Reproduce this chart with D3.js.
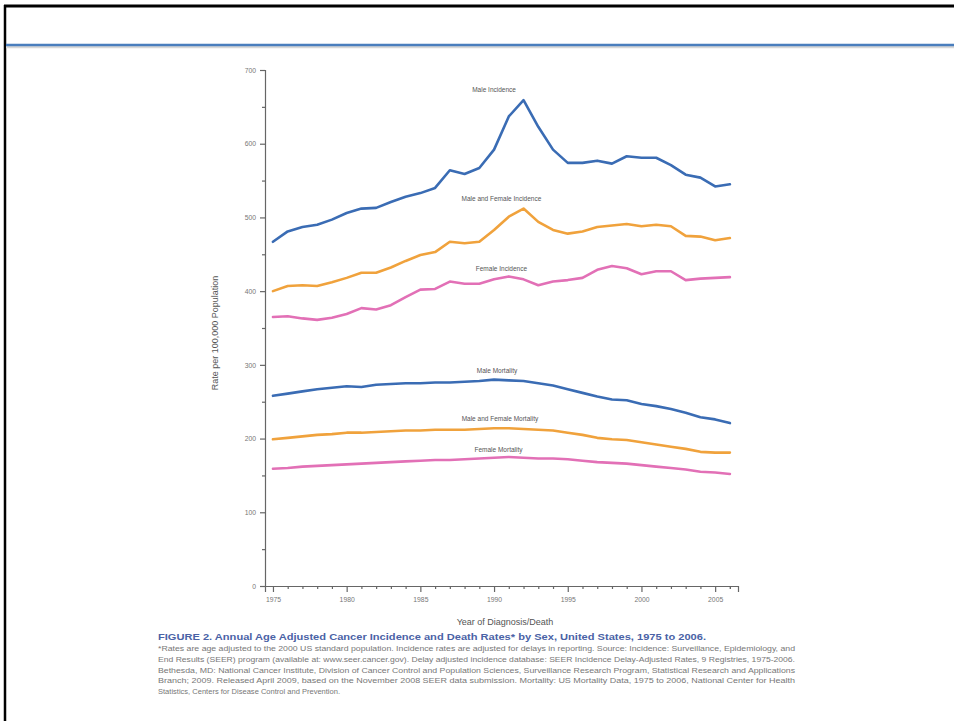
<!DOCTYPE html>
<html>
<head>
<meta charset="utf-8">
<script src="https://cdn.jsdelivr.net/npm/d3@7/dist/d3.min.js"></script>
<style>
  html, body { margin: 0; padding: 0; background: #fff; }
  svg { display: block; }
  text { font-family: "Liberation Sans", Arial, sans-serif; }
</style>
</head>
<body>
<svg id="slide" width="954" height="721"></svg>
<script>
// Years 1975-2006
const years = d3.range(1975, 2007);

// Age-adjusted rates per 100,000
const maleIncidence = [467, 481, 487, 490, 497, 506, 512, 513, 521, 528, 533, 540, 564, 559, 567, 592,
  637, 659, 623, 592, 574, 574, 577, 573, 583, 581, 581, 571, 558, 554, 542, 545];
const bothIncidence = [400, 407, 408, 407, 412, 418, 425, 425, 432, 441, 449, 453, 467, 465, 467, 483,
  501, 512, 494, 483, 478, 481, 487, 489, 491, 488, 490, 488, 475, 474, 469, 472];
const femaleIncidence = [365, 366, 363, 361, 364, 369, 377, 375, 381, 392, 402, 403, 413, 410, 410, 416,
  420, 416, 408, 413, 415, 418, 429, 434, 431, 423, 427, 427, 415, 417, 418, 419];
const maleMortality = [258, 261, 264, 267, 269, 271, 270, 273, 274, 275, 275, 276, 276, 277, 278, 280,
  279, 278, 275, 272, 267, 262, 257, 253, 252, 247, 244, 240, 235, 229, 226, 221];
const bothMortality = [199, 201, 203, 205, 206, 208, 208, 209, 210, 211, 211, 212, 212, 212, 213, 214,
  214, 213, 212, 211, 208, 205, 201, 199, 198, 195, 192, 189, 186, 182, 181, 181];
const femaleMortality = [159, 160, 162, 163, 164, 165, 166, 167, 168, 169, 170, 171, 171, 172, 173, 174,
  175, 174, 173, 173, 172, 170, 168, 167, 166, 164, 162, 160, 158, 155, 154, 152];

const seriesNames = ["Male Incidence", "Male and Female Incidence", "Female Incidence",
  "Male Mortality", "Male and Female Mortality", "Female Mortality"];
const seriesValues = [maleIncidence, bothIncidence, femaleIncidence, maleMortality, bothMortality, femaleMortality];
const seriesColors = ["#3a6cb4", "#f0a23c", "#e270b6", "#3a6cb4", "#f0a23c", "#e270b6"];
// label anchor: [year, rate]
const labelAnchors = [[1990, 670], [1990.5, 522], [1990.5, 427], [1990.2, 289], [1990.4, 224], [1990.3, 182]];

const yTicks = [0, 100, 200, 300, 400, 500, 600, 700];
const yMinor = [50, 150, 250, 350, 450, 550, 650];
const xTicks = [1975, 1980, 1985, 1990, 1995, 2000, 2005];

const captionTitle = "FIGURE 2. Annual Age Adjusted Cancer Incidence and Death Rates* by Sex, United States, 1975 to 2006.";
const captionNotes = [
  "*Rates are age adjusted to the 2000 US standard population. Incidence rates are adjusted for delays in reporting. Source: Incidence: Surveillance, Epidemiology, and",
  "End Results (SEER) program (available at: www.seer.cancer.gov). Delay adjusted incidence database: SEER Incidence Delay-Adjusted Rates, 9 Registries, 1975-2006.",
  "Bethesda, MD: National Cancer Institute, Division of Cancer Control and Population Sciences, Surveillance Research Program, Statistical Research and Applications",
  "Branch; 2009. Released April 2009, based on the November 2008 SEER data submission. Mortality: US Mortality Data, 1975 to 2006, National Center for Health",
  "Statistics, Centers for Disease Control and Prevention."
];
const noteWidths = [637, 637, 637, 637, 182];

const svg = d3.select("#slide");

// slide frame and header rule
svg.append("rect").attr("x", 0).attr("y", 0).attr("width", 954).attr("height", 721).attr("fill", "#fff");
svg.append("line").attr("x1", 4).attr("x2", 954).attr("y1", 6).attr("y2", 6)
  .attr("stroke", "#000").attr("stroke-width", 3);
svg.append("line").attr("x1", 5).attr("x2", 5).attr("y1", 5).attr("y2", 721)
  .attr("stroke", "#000").attr("stroke-width", 2.5);
svg.append("line").attr("x1", 6).attr("x2", 954).attr("y1", 47).attr("y2", 47)
  .attr("stroke", "#d8d8d8").attr("stroke-width", 2.5);
svg.append("line").attr("x1", 6).attr("x2", 954).attr("y1", 45).attr("y2", 45)
  .attr("stroke", "#4a7ebd").attr("stroke-width", 2.5);

const x = d3.scaleLinear().domain([1974.46, 2006.55]).range([265, 738]);
const y = d3.scaleLinear().domain([0, 700]).range([586, 70]);

const axisColor = "#666";
const g = svg.append("g");

// y axis
const yAxis = g.append("g").attr("transform", `translate(${x.range()[0]},0)`)
  .call(d3.axisLeft(y).tickValues(yTicks).tickSize(5).tickPadding(4).tickFormat(d3.format("d")));
const yMinorAxis = g.append("g").attr("transform", `translate(${x.range()[0]},0)`)
  .call(d3.axisLeft(y).tickValues(yMinor).tickSize(3).tickFormat(""));
yMinorAxis.select(".domain").remove();

// x axis
const xAxis = g.append("g").attr("transform", `translate(0,${y(0)})`)
  .call(d3.axisBottom(x).tickValues(xTicks).tickSize(6).tickPadding(5).tickFormat(d3.format("d")));
const xMinorAxis = g.append("g").attr("transform", `translate(0,${y(0)})`)
  .call(d3.axisBottom(x).tickValues(years.filter(v => v % 5 !== 0).concat([2006])).tickSize(3).tickFormat(""));
xMinorAxis.select(".domain").remove();

[yAxis, yMinorAxis, xAxis, xMinorAxis].forEach(a => {
  a.selectAll("path.domain").attr("stroke", axisColor).attr("stroke-width", 1.2);
  a.selectAll(".tick line").attr("stroke", axisColor).attr("stroke-width", 1.2);
  a.selectAll(".tick text").attr("fill", "#777").attr("font-size", 6.8)
    .style("font-family", "'Liberation Sans', Arial, sans-serif");
});

// axis titles
g.append("text").attr("transform", `translate(218,${(y(0) + y(700)) / 2 + 5}) rotate(-90)`)
  .attr("text-anchor", "middle").attr("font-size", 9).attr("fill", "#555")
  .text("Rate per 100,000 Population");
g.append("text").attr("x", 505).attr("y", 625).attr("text-anchor", "middle")
  .attr("font-size", 9).attr("fill", "#555").text("Year of Diagnosis/Death");

// series lines
const line = d3.line().x((d, i) => x(years[i])).y(d => y(d));
seriesValues.forEach((vals, k) => {
  g.append("path").datum(vals).attr("d", line).attr("fill", "none")
    .attr("stroke", seriesColors[k]).attr("stroke-width", 2.6)
    .attr("stroke-linejoin", "round").attr("stroke-linecap", "round");
  g.append("text").attr("x", x(labelAnchors[k][0])).attr("y", y(labelAnchors[k][1]))
    .attr("text-anchor", "middle").attr("font-size", 6.5).attr("fill", "#555")
    .text(seriesNames[k]);
});

// caption
svg.append("text").attr("x", 158).attr("y", 640).attr("font-size", 9.5)
  .attr("font-weight", "bold").attr("fill", "#4a62a6")
  .attr("textLength", 548).attr("lengthAdjust", "spacingAndGlyphs")
  .text(captionTitle);
captionNotes.forEach((t, i) => {
  svg.append("text").attr("x", 158).attr("y", 651 + i * 10.8).attr("font-size", 6.8)
    .attr("fill", "#777").attr("textLength", noteWidths[i]).attr("lengthAdjust", "spacingAndGlyphs")
    .text(t);
});
</script>
</body>
</html>
